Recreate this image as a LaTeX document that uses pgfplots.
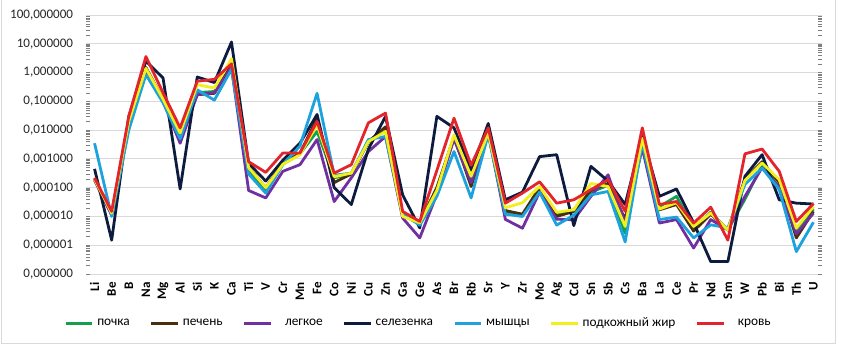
\documentclass[border=0pt]{standalone}
\usepackage{fontspec}
\setmainfont{Carlito}
\usepackage{pgfplots}
\usepackage{pgfplotstable}
\pgfplotsset{compat=1.18}
\definecolor{cgreen}{HTML}{10A050}
\definecolor{cbrown}{HTML}{4B2E0C}
\definecolor{cpurple}{HTML}{7030A0}
\definecolor{cnavy}{HTML}{0D1B3E}
\definecolor{ccyan}{HTML}{1CA3DD}
\definecolor{cyellow}{HTML}{F2EF1C}
\definecolor{cred}{HTML}{E3242B}
\definecolor{cgrid}{HTML}{D9D9D9}
\pgfplotstableread{
x g b p k c y r
0 2.0e-4 2.0e-4 1.8e-4 4.5e-4 3.5e-3 2.0e-4 2.2e-4
1 1.2e-5 1.2e-5 1.1e-5 1.5e-6 1.0e-5 1.3e-5 1.5e-5
2 0.015 0.02 0.02 0.03 0.01 0.02 0.03
3 0.9 1.5 1.2 2.5 0.85 1.4 3.6
4 0.1 0.12 0.1 0.65 0.09 0.12 0.2
5 0.006 0.007 0.0035 9e-5 0.005 0.008 0.012
6 0.2 0.17 0.17 0.7 0.25 0.38 0.5
7 0.22 0.19 0.2 0.45 0.11 0.29 0.58
8 1.6 1.8 1.5 11.5 1.3 3.0 2.0
9 4e-4 5e-4 8e-5 7e-4 3e-4 5e-4 8e-4
10 8e-5 1e-4 4.4e-5 1.7e-4 6.5e-5 1e-4 3.4e-4
11 6.5e-4 7e-4 3.7e-4 9e-4 6.3e-4 6.5e-4 1.6e-3
12 1.5e-3 1.6e-3 6.3e-4 3.5e-3 2.8e-3 1.4e-3 1.6e-3
13 0.009 0.025 0.0047 0.035 0.19 0.0155 0.02
14 2.2e-4 1.5e-4 3.3e-5 1e-4 2.7e-4 2.4e-4 3.2e-4
15 3e-4 3e-4 2.2e-4 2.6e-5 3.2e-4 3.2e-4 6.3e-4
16 0.004 0.004 0.0018 0.0022 0.0047 0.004 0.018
17 0.01 0.013 0.006 0.03 0.006 0.009 0.039
18 1.1e-5 1.1e-5 8.8e-6 5.6e-5 1.2e-5 1e-5 1.5e-5
19 6e-6 6e-6 1.8e-6 4e-6 5e-6 6e-6 6.7e-6
20 1e-4 1e-4 6e-5 0.03 5e-5 8e-5 4e-4
21 0.005 0.006 0.005 0.012 0.0018 0.0068 0.026
22 1.5e-4 1.1e-4 1.5e-4 4e-4 4.4e-5 2.5e-4 6e-4
23 0.008 0.008 0.008 0.017 0.007 0.008 0.012
24 1.5e-5 1.6e-5 7.9e-6 3.8e-5 1.2e-5 2e-5 2.9e-5
25 1.1e-5 1.2e-5 3.9e-6 7e-5 1e-5 3e-5 6.5e-5
26 1e-4 1e-4 7e-5 1.2e-3 7e-5 1.1e-4 1.6e-4
27 1.1e-5 1e-5 8e-6 1.4e-3 5e-6 1.4e-5 2.9e-5
28 1.7e-5 1.5e-5 7.7e-6 4.8e-6 1.1e-5 1.7e-5 3.8e-5
29 7e-5 8e-5 5e-5 5.5e-4 5.6e-5 1.4e-4 8.5e-5
30 1.2e-4 1.4e-4 2.8e-4 1.7e-4 7.4e-5 1.1e-4 1.9e-4
31 2.6e-6 8e-6 6e-6 2.6e-5 1.3e-6 4.5e-6 1.5e-5
32 0.004 0.005 0.0024 0.006 0.0036 0.0052 0.012
33 2.2e-5 1.7e-5 5.9e-6 5e-5 7.8e-6 1.8e-5 2.6e-5
34 5e-5 2.6e-5 7.8e-6 9e-5 9.5e-6 3e-5 3.3e-5
35 4e-6 3.1e-6 8e-7 6e-6 1.8e-6 4.5e-6 5.9e-6
36 1.4e-5 1.2e-5 7.8e-6 2.7e-7 5.1e-6 1.3e-5 2.1e-5
37 3.4e-6 3.4e-6 3.4e-6 2.7e-7 4e-6 3.4e-6 1.5e-6
38 4e-5 2e-4 5e-5 2.5e-4 1.3e-4 1.8e-4 1.5e-3
39 6e-4 8e-4 5e-4 1.4e-3 4.8e-4 7.2e-4 2.2e-3
40 1e-4 1.5e-4 1e-4 3.8e-5 8.7e-5 1.9e-4 3.7e-4
41 3.5e-6 1.8e-6 2.5e-6 2.9e-5 6e-7 3.9e-6 6.7e-6
42 1.8e-5 1.5e-5 1.3e-5 2.7e-5 6.3e-6 2.2e-5 2.8e-5
}\datatable
\begin{document}
\begin{tikzpicture}
\path[use as bounding box] (0,0) rectangle (636pt,268.5pt);
\draw[cgrid, line width=0.75pt] (0.75pt,268.5pt) -- (0.75pt,11.25pt) -- (626.25pt,11.25pt) -- (626.25pt,268.5pt);
\begin{axis}[
  at={(64.5pt,63pt)}, anchor=south west,
  scale only axis, width=552pt, height=194.25pt,
  ymode=log, ymin=1e-7, ymax=100,
  xmin=-0.5, xmax=42.5,
  axis line style={draw=none},
  major tick length=0pt,
  ymajorgrids, yminorgrids=false, minor y tick num=0,
  major grid style={cgrid, line width=0.75pt},
  ytick={1e-7,1e-6,1e-5,1e-4,1e-3,1e-2,1e-1,1,10,100},
  yticklabels={{0,000000},{0,000001},{0,000010},{0,000100},{0,001000},{0,010000},{0,100000},{1,000000},{10,000000},{100,000000}},
  yticklabel style={font=\fontsize{9.8}{11}\selectfont, inner sep=0pt, anchor=east, xshift=-9.5pt, text=black!85},
  xtick={0,...,42},
  xticklabels={Li,Be,B,Na,Mg,Al,Si,K,Ca,Ti,V,Cr,Mn,Fe,Co,Ni,Cu,Zn,Ga,Ge,As,Br,Rb,Sr,Y,Zr,Mo,Ag,Cd,Sn,Sb,Cs,Ba,La,Ce,Pr,Nd,Sm,W,Pb,Bi,Th,U},
  xticklabel style={font=\fontsize{9.8}{11}\selectfont\bfseries, rotate=90, anchor=east, inner sep=0pt, xshift=-6pt},
  every axis plot/.append style={line width=2.1pt, line join=round, no markers},
  legend columns=7,
  legend style={at={(-0.0299,-0.1892)}, anchor=west, draw=none, fill=none, inner sep=0pt,
    font=\fontsize{10}{12}\selectfont,
    /tikz/every even column/.append style={column sep=12.5pt},
    nodes={inner xsep=2.5pt, inner ysep=0pt}},
  legend image code/.code={\draw[#1, line width=2.25pt] (0pt,0pt) -- (20pt,0pt);},
]
\addplot[cgreen] table[x=x,y=g] {\datatable};
\addlegendentry{почка}
\addplot[cbrown] table[x=x,y=b] {\datatable};
\addlegendentry{печень}
\addplot[cpurple] table[x=x,y=p] {\datatable};
\addlegendentry{\hspace{7pt}легкое}
\addplot[cnavy] table[x=x,y=k] {\datatable};
\addlegendentry{селезенка}
\addplot[ccyan] table[x=x,y=c] {\datatable};
\addlegendentry{мышцы}
\addplot[cyellow] table[x=x,y=y] {\datatable};
\addlegendentry{подкожный жир}
\addplot[cred] table[x=x,y=r] {\datatable};
\addlegendentry{\hspace{7pt}кровь}
\end{axis}
\end{tikzpicture}
\end{document}
